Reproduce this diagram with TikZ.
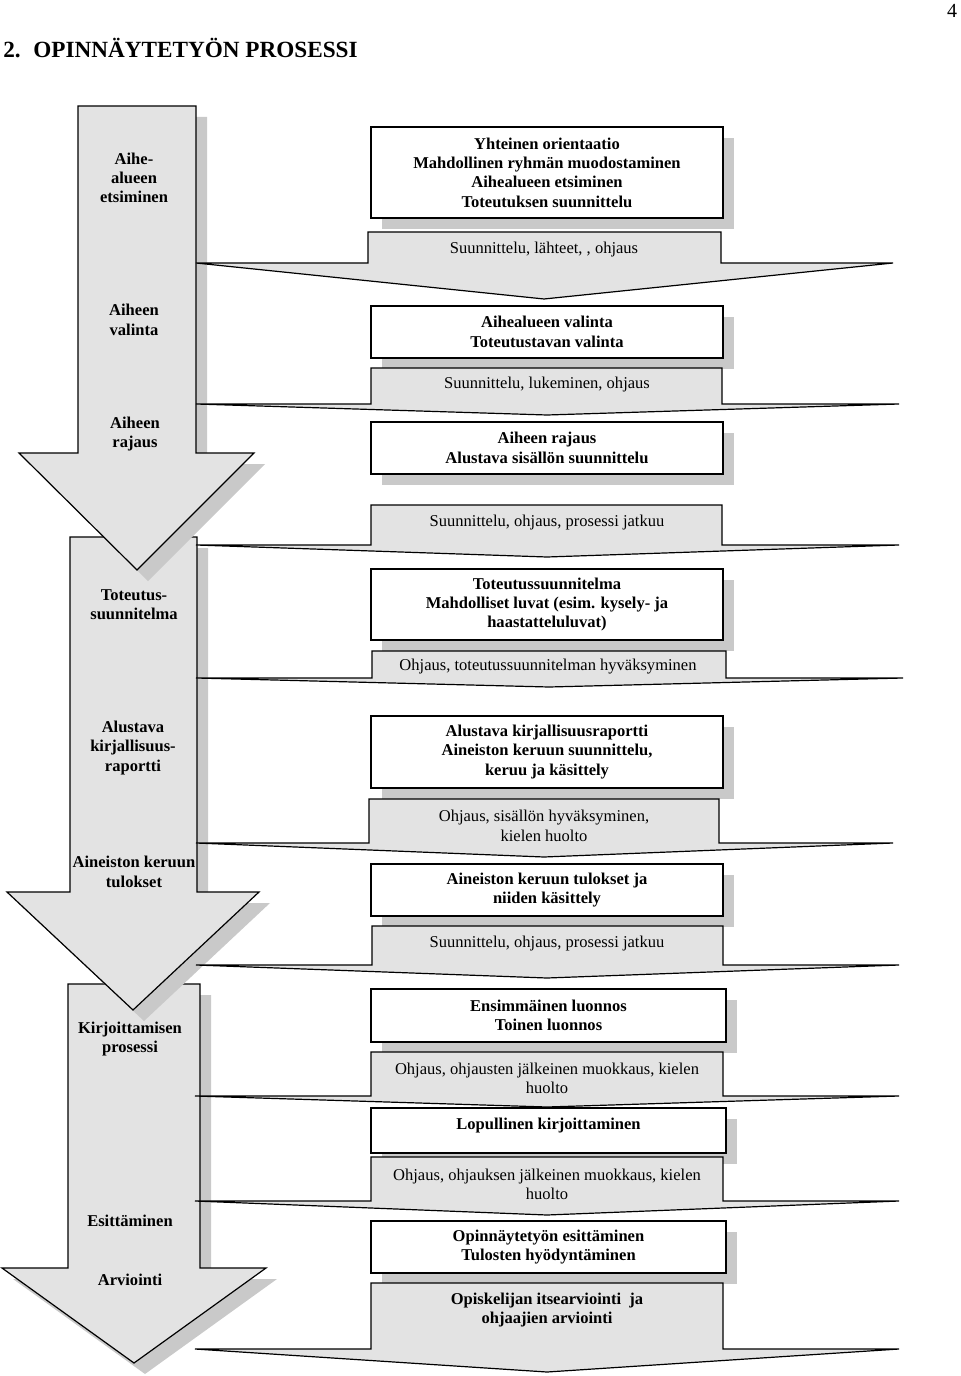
\documentclass[tikz,border=0pt]{standalone}
\usepackage{fontspec}
\setmainfont{Liberation Serif}
\usetikzlibrary{shadows}
\definecolor{arrowgray}{gray}{0.89}
\definecolor{shadowgray}{gray}{0.79}
\tikzset{
        % Gray shadow of arrows and boxes
        shadow_gray/.style={drop shadow={shadow xshift=8.25pt, shadow yshift=-8.25pt, fill=shadowgray, draw=none, opacity=1}},
        % Big phase arrows
        phase_arrow/.style={draw=black, fill=arrowgray, line width=0.9pt, shadow_gray},
        % Text on the phase arrows
        phase_text/.style={align=center, inner sep=0pt, font=\bfseries\fontsize{12.4}{14.5}\selectfont},
        % White task boxes
        task_box/.style={draw=black, fill=white, line width=0.9pt, align=center, minimum width=264pt, inner sep=0pt, outer sep=0pt, font=\bfseries\fontsize{12.4}{14.5}\selectfont, shadow_gray},
        % Gray guidance arrows
        guide_arrow/.style={draw=black, fill=arrowgray, line width=0.9pt},
        % Text on the guidance arrows
        guide_text/.style={align=center, inner sep=0pt, font=\fontsize{12.4}{14.5}\selectfont}
}

\begin{document}
\begin{tikzpicture}[x=0.75pt, y=-0.75pt]
    \useasboundingbox (0,0) rectangle (960,1376);

    \node[anchor=west, inner sep=0pt, font=\bfseries\fontsize{17.4}{20}\selectfont] (title) at (3,48) {2.\hspace{0.55em}OPINNÄYTETYÖN PROSESSI};
    \node[inner sep=0pt, font=\fontsize{15}{17}\selectfont] (pagenum) at (952,11) {4};

    \draw[phase_arrow] (68,984) -- (200,984) -- (200,1268) -- (266,1268) -- (134,1363) -- (2,1268) -- (68,1268) -- cycle;
    \draw[phase_arrow] (70,537) -- (197,537) -- (197,892) -- (259,892) -- (133,1010) -- (7,892) -- (70,892) -- cycle;
    \draw[phase_arrow] (78,106) -- (196,106) -- (196,453) -- (254,453) -- (137,570) -- (19,453) -- (78,453) -- cycle;

    \node[phase_text] (p_topic) at (134,178) {Aihe-\\alueen\\etsiminen};
    \node[phase_text] (p_choice) at (134,320) {Aiheen\\valinta};
    \node[phase_text] (p_limit) at (135,434) {Aiheen\\rajaus};
    \node[phase_text] (p_plan) at (134,605) {Toteutus-\\suunnitelma};
    \node[phase_text] (p_report) at (133,748) {Alustava\\kirjallisuus-\\raportti};
    \node[phase_text] (p_results) at (134,872) {Aineiston keruun\\tulokset};
    \node[phase_text] (p_writing) at (130,1039) {Kirjoittamisen\\prosessi};
    \node[phase_text] (p_present) at (130,1221) {Esittäminen};
    \node[phase_text] (p_assess) at (130,1280) {Arviointi};

    \node[task_box, minimum height=68.25pt] (t_orient) at (547,172.5) {Yhteinen orientaatio\\Mahdollinen ryhmän muodostaminen\\Aihealueen etsiminen\\Toteutuksen suunnittelu};
    \node[task_box, minimum height=39pt] (t_choice) at (547,332) {Aihealueen valinta\\Toteutustavan valinta};
    \node[task_box, minimum height=39pt] (t_limit) at (547,448) {Aiheen rajaus\\Alustava sisällön suunnittelu};
    \node[task_box, minimum height=53.25pt] (t_plan) at (547,604.5) {Toteutussuunnitelma\\Mahdolliset luvat (esim. kysely- ja\\haastatteluluvat)};
    \node[task_box, minimum height=54pt] (t_report) at (547,752) {Alustava kirjallisuusraportti\\Aineiston keruun suunnittelu,\\keruu ja käsittely};
    \node[task_box, minimum height=39pt] (t_results) at (547,890) {Aineiston keruun tulokset ja\\niiden käsittely};
    \node[task_box, minimum width=266.25pt, minimum height=39.75pt] (t_drafts) at (548.5,1015.5) {Ensimmäinen luonnos\\Toinen luonnos};
    \node[task_box, minimum width=266.25pt, minimum height=33.75pt, text depth=10pt] (t_final) at (548.5,1130.5) {Lopullinen kirjoittaminen};
    \node[task_box, minimum width=266.25pt, minimum height=39pt] (t_present) at (548.5,1247) {Opinnäytetyön esittäminen\\Tulosten hyödyntäminen};

    \draw[guide_arrow] (196,263) -| (368,232) -| (721,263) -- (893,263) -- (544,299) -- cycle;
    \draw[guide_arrow] (196,404) -| (371,368) -| (722,404) -- (899,404) -- (547,415) -- cycle;
    \draw[guide_arrow] (196,545) -| (371,505) -| (722,545) -- (899,545) -- (547,557) -- cycle;
    \draw[guide_arrow] (196,678) -| (372,651) -| (726,678) -- (903,678) -- (549,687) -- cycle;
    \draw[guide_arrow] (196,843) -| (369,799) -| (719,843) -- (893,843) -- (544,857) -- cycle;
    \draw[guide_arrow] (196,965) -| (372,926) -| (723,965) -- (899,965) -- (547,978) -- cycle;
    \draw[guide_arrow] (195,1096) -| (371,1052) -| (723,1096) -- (899,1096) -- (547,1107) -- cycle;
    \draw[guide_arrow] (195,1201) -| (371,1157) -| (723,1201) -- (899,1201) -- (547,1215) -- cycle;
    \draw[guide_arrow] (195,1349) -| (371,1283) -| (723,1349) -- (899,1349) -- (547,1372) -- cycle;

    \node[guide_text] (g_sources) at (544,250) {Suunnittelu, lähteet, , ohjaus};
    \node[guide_text] (g_reading) at (547,385) {Suunnittelu, lukeminen, ohjaus};
    \node[guide_text] (g_continue1) at (547,523) {Suunnittelu, ohjaus, prosessi jatkuu};
    \node[guide_text] (g_approval) at (548,667) {Ohjaus, toteutussuunnitelman hyväksyminen};
    \node[guide_text] (g_content) at (544,826) {Ohjaus, sisällön hyväksyminen,\\kielen huolto};
    \node[guide_text] (g_continue2) at (547,944) {Suunnittelu, ohjaus, prosessi jatkuu};
    \node[guide_text] (g_editing1) at (547,1078) {Ohjaus, ohjausten jälkeinen muokkaus, kielen\\huolto};
    \node[guide_text] (g_editing2) at (547,1184) {Ohjaus, ohjauksen jälkeinen muokkaus, kielen\\huolto};
    \node[guide_text, font=\bfseries\fontsize{12.4}{14.5}\selectfont] (g_evaluation) at (547,1310) {Opiskelijan itsearviointi\ \ ja\\ohjaajien arviointi};
\end{tikzpicture}
\end{document}
